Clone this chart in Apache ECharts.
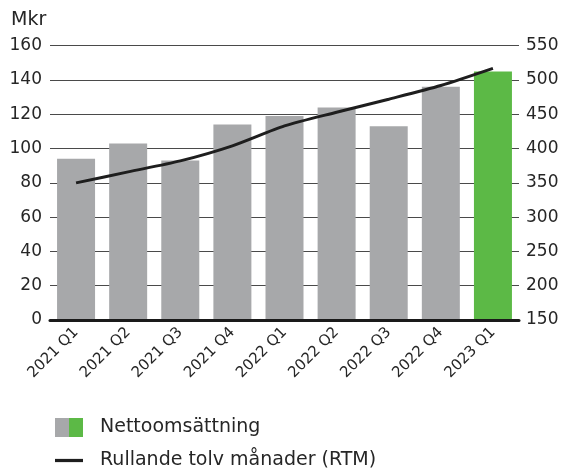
<!DOCTYPE html>
<html><head><meta charset="utf-8">
<script src="https://cdn.jsdelivr.net/npm/echarts@6/dist/echarts.min.js"></script>
<style>html,body{margin:0;padding:0;background:#fff}#c{width:563px;height:471px}</style>
</head><body><div id="c"></div>
<script>
const categories = ['2021 Q1','2021 Q2','2021 Q3','2021 Q4','2022 Q1','2022 Q2','2022 Q3','2022 Q4','2023 Q1'];
const netSales = [94, 103, 93, 114, 119, 124, 113, 136, 145];
const rtm = [350, 366, 382, 404, 433, 453, 472, 492, 517];
const leftTicks = {min: 0, max: 160, interval: 20};
const rightTicks = {min: 150, max: 550, interval: 50};

const GRAY = '#a7a8aa', GREEN = '#5cb946', TXT = '#262626';
const FONT = 'DejaVu Sans';
const chart = echarts.init(document.getElementById('c'));
chart.setOption({
  animation: false,
  textStyle: {fontFamily: FONT, color: TXT},
  grid: {left: 50, right: 44, top: 45.7, bottom: 151, containLabel: false},
  graphic: [{type: 'text', left: 11, top: 11, style: {text: 'Mkr', font: '19px ' + FONT, fill: TXT}}],
  legend: {
    orient: 'vertical', left: 55, top: 418, padding: 0, height: 60, itemWidth: 28, itemHeight: 19, itemGap: 14,
    textStyle: {fontSize: 19, color: TXT, fontFamily: FONT, padding: [0,0,0,12]},
    data: [
      {name: 'Nettoomsättning', icon: 'rect', itemStyle: {color: {type: 'linear', x: 0, y: 0, x2: 1, y2: 0,
        colorStops: [{offset: 0, color: GRAY}, {offset: 0.5, color: GRAY}, {offset: 0.5, color: GREEN}, {offset: 1, color: GREEN}]}}},
      {name: 'Rullande tolv månader (RTM)', icon: 'path://M0,0L26,0L26,3L0,3Z', itemStyle: {color: '#1e1e1e'}}
    ]
  },
  xAxis: {
    type: 'category', data: categories, zlevel: 2,
    axisLine: {lineStyle: {color: '#1a1a1a', width: 3}},
    axisTick: {show: false},
    splitLine: {show: false},
    axisLabel: {rotate: 45, fontSize: 15, color: TXT, margin: 10, fontFamily: FONT}
  },
  yAxis: [
    {type: 'value', min: leftTicks.min, max: leftTicks.max, interval: leftTicks.interval,
     axisLine: {show: false}, axisTick: {show: false},
     axisLabel: {fontSize: 17, color: TXT, margin: 8, fontFamily: FONT},
     splitLine: {lineStyle: {color: '#4a4a4a', width: 1}}},
    {type: 'value', min: rightTicks.min, max: rightTicks.max, interval: rightTicks.interval,
     axisLine: {show: false}, axisTick: {show: false},
     axisLabel: {fontSize: 17, color: TXT, margin: 7, fontFamily: FONT},
     splitLine: {show: false}}
  ],
  series: [
    {name: 'Nettoomsättning', type: 'bar', barWidth: 38, yAxisIndex: 0, zlevel: 1,
     data: netSales.map((v, i) => ({value: v, itemStyle: {color: i === netSales.length - 1 ? GREEN : GRAY}})),
     itemStyle: {color: GRAY}},
    {name: 'Rullande tolv månader (RTM)', type: 'line', yAxisIndex: 1, data: rtm, zlevel: 1, z: 5,
     symbol: 'none', smooth: 0.25, lineStyle: {color: '#1e1e1e', width: 3}, itemStyle: {color: '#1e1e1e'}}
  ]
});
</script></body></html>
